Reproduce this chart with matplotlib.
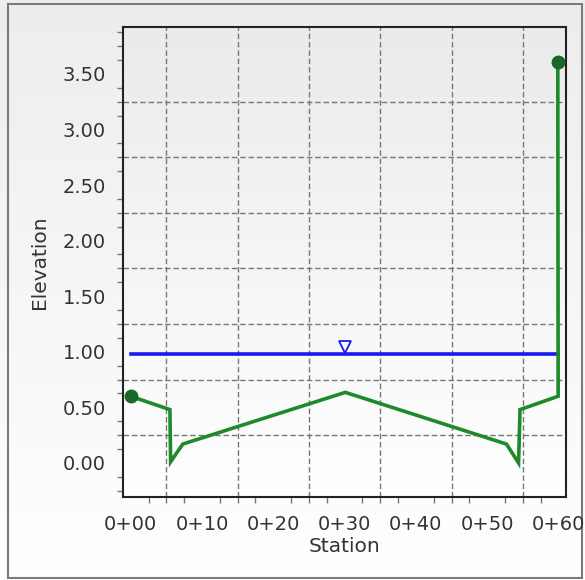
import numpy as np
import matplotlib
matplotlib.use('Agg')
import matplotlib.pyplot as plt
from matplotlib.patches import Rectangle

# ground profile (station, elevation)
station = [0.0, 5.5, 5.6, 7.3, 30.1, 52.7, 54.4, 54.6, 59.95, 59.9]
elevation = [0.60, 0.48, 0.01, 0.17, 0.635, 0.17, 0.0, 0.48, 0.60, 3.61]
# water surface
ws_station = [0.1, 59.9]
ws_elev = 0.98
ws_marker_station = 30.0

xtick_vals = [0, 10, 20, 30, 40, 50, 60]
xtick_labels = ['0+00', '0+10', '0+20', '0+30', '0+40', '0+50', '0+60']
ytick_vals = [0.0, 0.5, 1.0, 1.5, 2.0, 2.5, 3.0, 3.5]
grid_x = [5, 15, 25, 35, 45, 55]
grid_y = [0.25, 0.75, 1.25, 1.75, 2.25, 2.75, 3.25]

green = '#1f8a2c'
blue = '#1a1aee'
txt = '#333333'

fig = plt.figure(figsize=(5.85, 5.80), dpi=100)

# figure background gradient + frame
bg = fig.add_axes([0, 0, 1, 1], zorder=-10)
grad = np.linspace(0, 1, 256).reshape(-1, 1)
bg.imshow(grad, aspect='auto', cmap=matplotlib.colors.LinearSegmentedColormap.from_list(
    'bgc', ['#ededed', '#ffffff']), extent=[0, 1, 0, 1], origin='upper')
bg.add_patch(Rectangle((8 / 585, 2 / 580), 574 / 585, 574 / 580, fill=False,
                       edgecolor='#7a7a7a', lw=1.5, transform=bg.transAxes))
bg.set_xlim(0, 1)
bg.set_ylim(0, 1)
bg.axis('off')

ax = fig.add_axes([122.7 / 585, 83 / 580, 443.3 / 585, 470 / 580])
ax.set_xlim(-1.12, 61.05)
ax.set_ylim(-0.306, 3.921)
ax.imshow(grad, aspect='auto', cmap=matplotlib.colors.LinearSegmentedColormap.from_list(
    'pc', ['#ebebeb', '#ffffff']), extent=[-1.12, 61.05, -0.306, 3.921], origin='upper', zorder=0)

for gx in grid_x:
    ax.axvline(gx, color='#777777', lw=1, ls=(0, (4, 2)), zorder=1)
for gy in grid_y:
    ax.axhline(gy, color='#777777', lw=1, ls=(0, (4, 2)), zorder=1)

ax.plot(ws_station, [ws_elev, ws_elev], color=blue, lw=2.6, zorder=3)
ax.plot([ws_marker_station], [ws_elev + 0.06], marker='v', ms=8, mfc='none',
        mec=blue, mew=1.3, ls='none', zorder=4)

ax.plot(station, elevation, color=green, lw=2.6, zorder=5, solid_joinstyle='miter')
ax.plot([station[0], station[-1]], [elevation[0], elevation[-1]], 'o', color='#17692a',
        ms=9, zorder=6)

ax.set_xticks(xtick_vals)
ax.set_xticklabels(xtick_labels)
ax.set_yticks(ytick_vals)
ax.set_yticklabels([f'{v:.2f}' for v in ytick_vals])
ax.set_xticks([v for v in np.arange(-0.0, 62, 2.5) if v % 10 != 0], minor=True)
ax.set_yticks([v for v in np.arange(-0.25, 3.92, 0.125) if abs(v % 0.5) > 1e-6], minor=True)
ax.tick_params(which='major', length=0, labelsize=14, labelcolor=txt, pad=12)
ax.tick_params(which='minor', length=4, color='#777777', width=1)
ax.tick_params(axis='x', which='major', pad=13)

for s in ax.spines.values():
    s.set_color('#222222')
    s.set_linewidth(1.5)

ax.set_xlabel('Station', fontsize=14.5, color=txt, labelpad=2)
ax.set_ylabel('Elevation', fontsize=14.5, color=txt, labelpad=10)

fig.savefig('out.png', dpi=100)
